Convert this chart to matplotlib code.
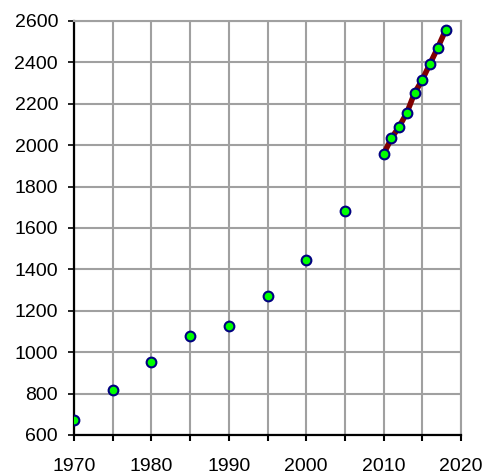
import matplotlib.pyplot as plt
import numpy as np

plt.rcParams['font.family'] = ['Liberation Sans', 'DejaVu Sans']

# Data
years = [1970, 1975, 1980, 1985, 1990, 1995, 2000, 2005,
         2010, 2011, 2012, 2013, 2014, 2015, 2016, 2017, 2018]
values = [672, 817, 953, 1077, 1127, 1271, 1443, 1682,
          1957, 2033, 2089, 2156, 2252, 2316, 2394, 2471, 2555]
recent_years = years[8:]
recent_values = values[8:]

fig = plt.figure(figsize=(4.85, 4.74), dpi=100)
ax = fig.add_axes([0.1526, 0.0823, 0.7979, 0.8734])

ax.plot(recent_years, recent_values, color='#800000', lw=4, zorder=3)
ax.plot(years, values, ls='none', marker='o', ms=7, mfc='#00FF00',
        mec='#000080', mew=1.5, zorder=4)

ax.set_xlim(1970, 2020)
ax.set_ylim(600, 2600)
ax.set_xticks(np.arange(1970, 2021, 10))
ax.set_xticks(np.arange(1970, 2021, 5), minor=True)
ax.set_yticks(np.arange(600, 2601, 200))

ax.grid(True, which='both', color='#A0A0A0', lw=1.5, zorder=1)
ax.set_axisbelow(True)

for side in ['top', 'right']:
    ax.spines[side].set_color('#A0A0A0')
    ax.spines[side].set_linewidth(1.5)
for side in ['left', 'bottom']:
    ax.spines[side].set_color('black')
    ax.spines[side].set_linewidth(1.6)

ax.tick_params(axis='x', which='both', direction='out', length=4.5, width=1.5,
               pad=12, labelsize=14)
ax.tick_params(axis='y', direction='out', length=4, width=1.2,
               pad=7.5, labelsize=14)

fig.savefig('out.png', dpi=100)
